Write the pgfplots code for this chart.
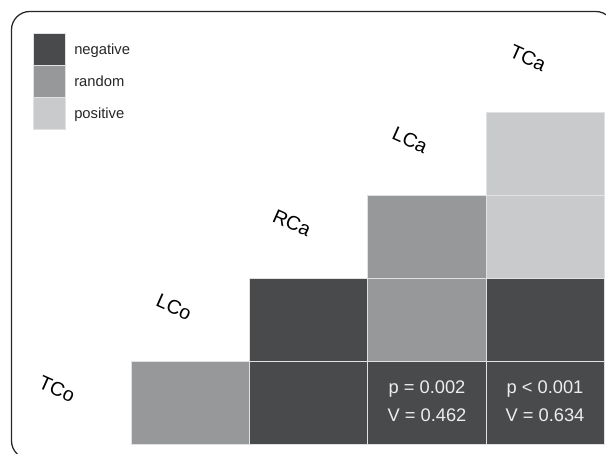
\documentclass[border=0pt]{standalone}
\usepackage{pgfplots}
\pgfplotsset{compat=1.18}
\usepackage{fontspec}
\setmainfont{Liberation Sans}
\definecolor{cneg}{RGB}{73,74,76}
\definecolor{cran}{RGB}{151,152,154}
\definecolor{cpos}{RGB}{201,202,204}
\definecolor{cline}{RGB}{225,225,227}
\begin{document}
\begin{tikzpicture}
\begin{axis}[
  name=main,
  scale only axis, width=15.15cm, height=11.35cm,
  xmin=0, xmax=606, ymin=0, ymax=454, y dir=reverse,
  hide axis, clip=true,
  every axis plot/.style={draw=cline, line width=0.6pt},
]
% matrix cells
% row TCo
\addplot[fill=cran] coordinates {(131,361) (249,361) (249,444) (131,444)} -- cycle;
\addplot[fill=cneg] coordinates {(249,361) (367,361) (367,444) (249,444)} -- cycle;
\addplot[fill=cneg] coordinates {(367,361) (486,361) (486,444) (367,444)} -- cycle;
\addplot[fill=cneg] coordinates {(486,361) (604,361) (604,444) (486,444)} -- cycle;
% row LCo
\addplot[fill=cneg] coordinates {(249,278) (367,278) (367,361) (249,361)} -- cycle;
\addplot[fill=cran] coordinates {(367,278) (486,278) (486,361) (367,361)} -- cycle;
\addplot[fill=cneg] coordinates {(486,278) (604,278) (604,361) (486,361)} -- cycle;
% row RCa
\addplot[fill=cran] coordinates {(367,195) (486,195) (486,278) (367,278)} -- cycle;
\addplot[fill=cpos] coordinates {(486,195) (604,195) (604,278) (486,278)} -- cycle;
% row LCa
\addplot[fill=cpos] coordinates {(486,112) (604,112) (604,195) (486,195)} -- cycle;
% legend squares
\addplot[fill=cneg] coordinates {(33,33) (65,33) (65,65.5) (33,65.5)} -- cycle;
\addplot[fill=cran] coordinates {(33,65.5) (65,65.5) (65,97.5) (33,97.5)} -- cycle;
\addplot[fill=cpos] coordinates {(33,97.5) (65,97.5) (65,129.5) (33,129.5)} -- cycle;
% frame
\draw[black!85, line width=0.9pt, rounded corners=13pt] (axis cs:11.5,11.5) rectangle (axis cs:614,459);
% legend text
\node[anchor=base west, inner sep=0pt, font=\fontsize{10.5}{12}\selectfont, text=black!85] at (axis cs:74,55) {negative};
\node[anchor=base west, inner sep=0pt, font=\fontsize{10.5}{12}\selectfont, text=black!85] at (axis cs:74,87) {random};
\node[anchor=base west, inner sep=0pt, font=\fontsize{10.5}{12}\selectfont, text=black!85] at (axis cs:74,119) {positive};
% diagonal labels
\node[rotate=-24, inner sep=0pt, font=\fontsize{14}{16}\selectfont] at (axis cs:57,389) {TCo};
\node[rotate=-24, inner sep=0pt, font=\fontsize{14}{16}\selectfont] at (axis cs:174,307) {LCo};
\node[rotate=-24, inner sep=0pt, font=\fontsize{14}{16}\selectfont] at (axis cs:292,223) {RCa};
\node[rotate=-24, inner sep=0pt, font=\fontsize{14}{16}\selectfont] at (axis cs:410,140) {LCa};
\node[rotate=-24, inner sep=0pt, font=\fontsize{14}{16}\selectfont] at (axis cs:528,58) {TCa};
% cell statistics
\node[anchor=base, text=white!93!black, font=\fontsize{13}{15}\selectfont] at (axis cs:427,393) {p = 0.002};
\node[anchor=base, text=white!93!black, font=\fontsize{13}{15}\selectfont] at (axis cs:427,421) {V = 0.462};
\node[anchor=base, text=white!93!black, font=\fontsize{13}{15}\selectfont] at (axis cs:545,393) {p < 0.001};
\node[anchor=base, text=white!93!black, font=\fontsize{13}{15}\selectfont] at (axis cs:545,421) {V = 0.634};
\end{axis}
\pgfresetboundingbox
\path[use as bounding box] (main.south west) rectangle (main.north east);
\end{tikzpicture}
\end{document}
